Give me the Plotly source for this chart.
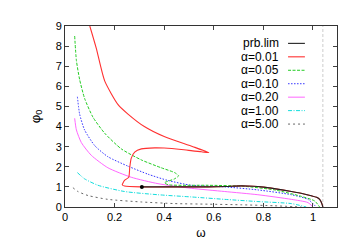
import plotly.graph_objects as go

# ---- data ----
prb_w = [0.31, 0.45, 0.577, 0.65, 0.711, 0.76, 0.79, 0.85, 0.913, 0.96, 0.993, 1.015, 1.027, 1.035, 1.04]
prb_p = [1.0, 1.0, 1.0, 1.02, 1.05, 1.03, 1.0, 0.9, 0.77, 0.66, 0.56, 0.48, 0.38, 0.2, 0.0]

a001_w = [0.1, 0.126, 0.16, 0.214, 0.254, 0.32, 0.40, 0.516, 0.58, 0.55, 0.523, 0.469, 0.40, 0.362, 0.308,
          0.281, 0.267, 0.261, 0.257, 0.24, 0.231, 0.24, 0.31, 0.45, 0.577, 0.65, 0.711, 0.76, 0.79, 0.85,
          0.913, 0.96, 0.993, 1.015, 1.027, 1.035, 1.04]
a001_p = [9.0, 7.9, 6.27, 5.09, 4.62, 4.0, 3.5, 3.0, 2.7, 2.75, 2.78, 2.86, 2.93, 2.94, 2.89,
          2.73, 2.42, 1.95, 1.48, 1.32, 1.1, 1.04, 1.0, 1.0, 1.0, 1.02, 1.05, 1.03, 1.0, 0.9,
          0.77, 0.66, 0.56, 0.48, 0.38, 0.2, 0.0]

a005_w = [0.039, 0.046, 0.059, 0.079, 0.113, 0.16, 0.227, 0.308, 0.388, 0.442, 0.458, 0.442, 0.402,
          0.415, 0.577, 0.711, 0.845, 0.953, 1.007, 1.027]
a005_p = [8.5, 7.28, 6.34, 5.4, 4.46, 3.67, 2.89, 2.34, 1.95, 1.71, 1.55, 1.40, 1.21,
          1.11, 1.08, 1.04, 0.85, 0.53, 0.30, 0.0]

a010_w = [0.05, 0.059, 0.079, 0.12, 0.173, 0.254, 0.335, 0.415, 0.509, 0.644, 0.778, 0.913, 0.98, 1.013]
a010_p = [5.48, 4.62, 3.83, 3.05, 2.5, 2.03, 1.63, 1.32, 1.08, 1.0, 0.85, 0.61, 0.38, 0.0]

a020_w = [0.039, 0.046, 0.066, 0.106, 0.173, 0.267, 0.375, 0.509, 0.644, 0.778, 0.913, 0.98, 1.0]
a020_p = [4.41, 3.83, 3.2, 2.57, 1.95, 1.48, 1.16, 0.93, 0.77, 0.61, 0.38, 0.22, 0.0]

a100_w = [0.05, 0.079, 0.133, 0.24, 0.375, 0.509, 0.644, 0.778, 0.913, 0.973]
a100_p = [1.71, 1.40, 1.08, 0.77, 0.61, 0.5, 0.38, 0.27, 0.17, 0.0]

a500_w = [0.032, 0.052, 0.093, 0.173, 0.308, 0.442, 0.577, 0.711, 0.845, 0.953]
a500_p = [0.96, 0.77, 0.57, 0.38, 0.25, 0.17, 0.14, 0.11, 0.06, 0.0]

dot_w = [0.31]
dot_p = [1.0]
omega_max = 1.04

x_ticks = [0, 0.2, 0.4, 0.6, 0.8, 1]
x_tick_labels = ["0", "0.2", "0.4", "0.6", "0.8", "1"]
y_ticks = list(range(0, 10))

series = [
    ("prb.lim", prb_w, prb_p, "#222222", 1.1, "solid"),
    ("\u03b1=0.01", a001_w, a001_p, "#ff3030", 1.1, "solid"),
    ("\u03b1=0.05", a005_w, a005_p, "#22cc22", 1.0, "3px,1.5px"),
    ("\u03b1=0.10", a010_w, a010_p, "#3333ff", 1.0, "1.5px,1.5px"),
    ("\u03b1=0.20", a020_w, a020_p, "#ff66ff", 1.0, "solid"),
    ("\u03b1=1.00", a100_w, a100_p, "#11dddd", 1.0, "4px,1.5px,1px,1.5px"),
    ("\u03b1=5.00", a500_w, a500_p, "#666666", 1.0, "2px,3px"),
]

FONT = "Liberation Sans, Arial, sans-serif"
fig = go.Figure()

order = [6, 5, 4, 3, 2, 1, 0]
for i in order:
    name, xs, ys, col, w, dash = series[i]
    fig.add_trace(go.Scatter(x=xs, y=ys, mode="lines", name=name,
                             line=dict(color=col, width=w, dash=dash, shape="spline", smoothing=0.6),
                             showlegend=False))

fig.add_trace(go.Scatter(x=dot_w, y=dot_p, mode="markers",
                         marker=dict(color="black", size=4), showlegend=False))

fig.add_shape(type="line", xref="x", yref="paper", x0=omega_max, x1=omega_max, y0=0, y1=1,
              line=dict(color="#cccccc", width=1, dash="3px,2px"), layer="below")

row_top = 0.904
row_step = 0.0743
for k, (name, xs, ys, col, w, dash) in enumerate(series):
    yy = row_top - k * row_step
    fig.add_annotation(xref="paper", yref="paper", x=0.795, y=yy, text=name, showarrow=False,
                       xanchor="right", yanchor="middle", font=dict(family=FONT, size=12, color="#000"))
    fig.add_shape(type="line", xref="paper", yref="paper", x0=0.82, x1=0.882, y0=yy, y1=yy,
                  line=dict(color=col, width=w, dash=dash))

fig.update_layout(
    width=346, height=242,
    margin=dict(l=57, r=17, t=14, b=37),
    paper_bgcolor="white", plot_bgcolor="white",
    font=dict(family=FONT, size=11, color="#000"),
    showlegend=False,
)
fig.update_xaxes(range=[0, 1.097], tickvals=x_ticks, ticktext=x_tick_labels,
                 ticks="inside", ticklen=4, mirror="allticks", showline=True,
                 linecolor="#333", linewidth=1, showgrid=False, zeroline=False,
                 tickfont=dict(size=11), title=dict(text="\u03c9", standoff=6, font=dict(size=12)))
fig.update_yaxes(range=[0, 9], tickvals=y_ticks, ticks="inside", ticklen=4, mirror="allticks",
                 showline=True, linecolor="#333", linewidth=1, showgrid=False, zeroline=False,
                 tickfont=dict(size=11), title=dict(text="\u03c6<sub>0</sub>", standoff=12, font=dict(size=13)))

fig.write_html("out.html")
